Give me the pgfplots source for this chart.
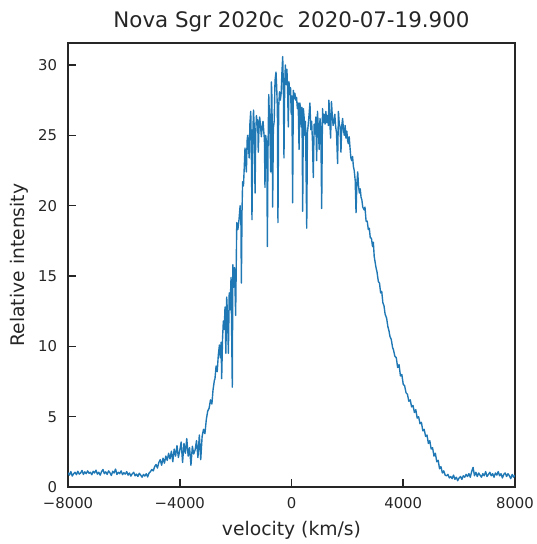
\documentclass[border=0pt]{standalone}
\usepackage{fontspec}
\setmainfont{DejaVu Sans}
\usepackage{pgfplots}
\pgfplotsset{compat=1.18}
\definecolor{ink}{HTML}{262626}
\definecolor{tabblue}{HTML}{1F77B4}
\begin{document}
\begin{tikzpicture}
\path[use as bounding box] (-49pt,-41pt) rectangle (337.6pt,350.7pt);
\begin{axis}[
  at={(0,0)}, anchor=south west,
  scale only axis,
  width=321.8pt, height=319.7pt,
  xmin=-8000, xmax=8000, ymin=0, ymax=31.56,
  xtick={-8000,-4000,0,4000,8000},
  xticklabels={−8000,−4000,0,4000,8000},
  ytick={0,5,10,15,20,25,30},
  yticklabels={0,5,10,15,20,25,30},
  tick align=inside,
  xtick pos=bottom, ytick pos=left,
  major tick length=5.8pt,
  every tick/.style={ink, line width=1.1pt},
  axis line style={ink, line width=1.25pt},
  tick label style={font=\fontsize{10.7}{12}\selectfont, text=ink},
  xticklabel style={yshift=-3.7pt},
  yticklabel style={xshift=-4.4pt},
  xlabel={velocity (km/s)}, ylabel={Relative intensity},
  label style={font=\fontsize{13.5}{15}\selectfont, text=ink},
  xlabel style={at={([yshift=-34.6pt]axis description cs:0.5,0)}, anchor=base},
  ylabel style={at={([xshift=-31pt]axis description cs:0,0.5)}, anchor=base, rotate=0},
  title={Nova Sgr 2020c\ \ 2020-07-19.900},
  title style={font=\fontsize{15.4}{17}\selectfont, text=ink, at={([yshift=5pt]axis description cs:0.5,1)}, anchor=base},
  scaled x ticks=false,
]
\addplot[tabblue, line width=1pt, line join=round] coordinates {
(-8000,1.02)(-7950,0.85)(-7900,1.10)(-7850,0.78)(-7800,0.95)(-7750,1.05)(-7700,0.88)(-7650,1.12)(-7600,0.92)(-7550,1.00)
(-7500,1.18)(-7450,0.90)(-7400,1.08)(-7350,0.95)(-7300,1.15)(-7250,0.98)(-7200,1.05)(-7150,0.88)(-7100,1.12)(-7050,1.00)
(-7000,1.20)(-6950,0.92)(-6900,1.05)(-6850,0.85)(-6800,1.10)(-6750,1.25)(-6700,0.95)(-6650,1.08)(-6600,0.90)(-6550,1.15)
(-6500,1.02)(-6450,0.82)(-6400,1.12)(-6350,1.00)(-6300,1.28)(-6250,0.90)(-6200,1.05)(-6150,0.95)(-6100,1.15)(-6050,0.88)
(-6000,1.02)(-5950,0.92)(-5900,1.10)(-5850,0.85)(-5800,1.00)(-5750,0.78)(-5700,0.95)(-5650,1.05)(-5600,0.80)(-5550,0.92)
(-5500,0.75)(-5450,0.98)(-5400,0.85)(-5350,0.70)(-5300,0.90)(-5250,0.78)(-5200,0.95)(-5150,0.72)(-5100,1.00)(-5050,1.10)
(-5000,1.25)(-4950,1.15)(-4900,1.45)(-4850,1.60)(-4800,1.35)(-4750,1.75)(-4700,1.95)(-4650,1.55)(-4600,2.05)(-4550,1.70)
(-4500,2.20)(-4450,1.90)(-4400,2.40)(-4350,2.00)(-4300,2.55)(-4250,1.80)(-4200,2.70)(-4150,2.20)(-4100,2.95)(-4050,2.10)
(-4000,2.60)(-3950,3.20)(-3900,1.75)(-3850,3.10)(-3800,2.40)(-3750,3.45)(-3700,2.20)(-3650,2.80)(-3600,1.55)(-3550,2.90)
(-3500,2.35)(-3450,2.65)(-3400,3.30)(-3350,2.10)(-3300,3.70)(-3250,1.95)(-3200,3.60)(-3150,4.10)(-3100,3.80)(-3050,4.80)
(-3000,5.40)(-2950,5.60)(-2900,6.20)(-2850,5.90)(-2810,6.90)(-2760,7.60)(-2740,7.70)(-2700,8.60)(-2660,8.20)(-2620,9.40)
(-2580,10.10)(-2550,9.20)(-2520,10.30)(-2500,7.70)(-2470,10.50)(-2440,11.80)(-2410,11.20)(-2380,12.80)(-2350,9.50)(-2320,13.50)
(-2290,12.20)(-2260,9.50)(-2230,13.80)(-2200,12.60)(-2165,14.90)(-2140,10.50)(-2120,7.10)(-2100,15.80)(-2070,14.20)(-2040,15.60)
(-2000,12.20)(-1960,18.80)(-1920,18.30)(-1880,19.00)(-1840,20.00)(-1810,18.60)(-1795,14.50)(-1770,19.80)(-1750,21.70)(-1720,21.40)
(-1690,22.80)(-1665,24.10)(-1640,23.00)(-1615,22.40)(-1590,24.60)(-1570,25.00)(-1540,24.20)(-1515,23.40)(-1490,25.80)(-1460,26.70)
(-1440,24.50)(-1415,19.00)(-1390,24.80)(-1360,26.80)(-1335,25.60)(-1305,20.90)(-1280,25.20)(-1255,26.40)(-1230,25.80)(-1210,26.10)
(-1190,23.80)(-1165,25.50)(-1140,26.30)(-1110,25.70)(-1080,24.90)(-1050,25.60)(-1020,26.00)(-990,25.20)(-970,24.70)(-950,21.30)
(-925,25.00)(-900,24.60)(-880,22.80)(-865,17.10)(-840,24.20)(-815,27.90)(-790,26.20)(-770,25.00)(-745,22.40)(-720,28.80)
(-700,27.60)(-675,19.90)(-650,25.50)(-620,26.00)(-590,28.90)(-555,29.50)(-530,28.40)(-505,26.80)(-485,18.80)(-460,27.00)
(-430,28.10)(-400,27.50)(-370,28.00)(-345,29.40)(-315,30.60)(-290,28.20)(-270,23.40)(-245,28.50)(-220,30.00)(-190,28.60)
(-165,29.70)(-140,28.30)(-115,25.60)(-90,28.80)(-65,27.90)(-35,28.40)(-10,26.50)(15,27.80)(40,20.20)(65,28.20)
(95,27.60)(120,28.00)(150,27.50)(180,27.70)(210,26.90)(240,27.30)(270,24.00)(300,27.30)(325,26.80)(350,25.60)
(375,27.00)(400,19.60)(425,26.90)(450,26.30)(475,25.00)(500,26.00)(545,18.40)(570,25.20)(600,25.80)(630,26.50)
(660,27.30)(690,25.40)(720,26.00)(750,24.60)(780,22.00)(810,25.80)(840,25.10)(870,26.30)(900,23.20)(930,26.70)
(960,25.50)(990,24.00)(1020,26.20)(1050,25.40)(1080,19.80)(1110,26.90)(1140,25.90)(1170,26.50)(1200,25.80)(1230,26.70)
(1260,25.90)(1290,26.40)(1320,25.70)(1340,27.50)(1370,26.00)(1400,24.80)(1430,27.40)(1460,26.40)(1490,25.70)(1520,26.00)
(1550,26.50)(1580,25.60)(1610,25.20)(1650,23.00)(1680,26.70)(1710,25.80)(1740,25.60)(1770,23.80)(1800,25.70)(1830,26.20)
(1860,25.40)(1890,25.00)(1920,25.70)(1950,24.80)(1980,25.30)(2010,24.60)(2035,24.40)(2065,24.90)(2095,24.10)(2125,23.40)
(2155,23.20)(2185,23.50)(2215,22.80)(2245,22.50)(2280,21.80)(2310,19.50)(2340,21.60)(2370,22.40)(2400,21.40)(2430,20.90)
(2460,21.20)(2490,20.60)(2520,20.40)(2550,19.90)(2600,19.70)(2630,19.90)(2670,18.90)(2710,18.90)(2750,18.30)(2785,18.40)
(2820,17.70)(2860,17.70)(2900,17.10)(2930,17.40)(2960,16.40)(3000,15.90)(3025,15.60)(3060,15.30)(3110,14.60)(3150,14.50)
(3190,13.80)(3230,13.90)(3270,13.10)(3310,12.90)(3350,12.30)(3405,12.00)(3450,11.40)(3490,11.10)(3525,10.70)(3570,10.50)
(3620,9.90)(3645,9.80)(3700,9.30)(3750,9.20)(3800,8.50)(3850,8.70)(3900,7.90)(3950,8.00)(4000,7.30)(4050,7.20)
(4100,6.70)(4150,6.60)(4200,6.10)(4250,6.20)(4300,5.70)(4350,5.80)(4400,5.30)(4450,5.50)(4500,4.90)(4550,5.00)
(4600,4.50)(4650,4.60)(4700,4.00)(4750,4.10)(4800,3.60)(4850,3.70)(4900,3.10)(4950,3.30)(5000,2.70)(5050,2.80)
(5100,2.20)(5150,2.40)(5200,1.80)(5250,1.90)(5300,1.30)(5350,1.45)(5400,1.00)(5450,1.15)(5500,0.85)(5550,0.80)
(5600,0.90)(5650,0.65)(5700,0.75)(5750,0.60)(5800,0.85)(5850,0.55)(5900,0.70)(5950,0.45)(6000,0.65)(6050,0.75)
(6100,0.55)(6150,0.80)(6200,0.70)(6250,0.90)(6300,0.75)(6350,0.95)(6400,0.70)(6450,1.10)(6500,1.40)(6550,0.80)
(6600,1.05)(6650,0.75)(6700,1.00)(6750,0.85)(6800,0.70)(6850,0.95)(6900,0.80)(6950,1.10)(7000,0.75)(7050,0.90)
(7100,1.05)(7150,0.80)(7200,0.95)(7250,0.70)(7300,1.00)(7350,0.85)(7400,1.10)(7450,0.80)(7500,0.95)(7550,0.65)
(7600,0.90)(7650,1.00)(7700,0.75)(7750,0.95)(7800,0.80)(7850,0.60)(7900,0.90)(7950,0.70)(8000,0.85)
};
\end{axis}
\end{tikzpicture}
\end{document}
